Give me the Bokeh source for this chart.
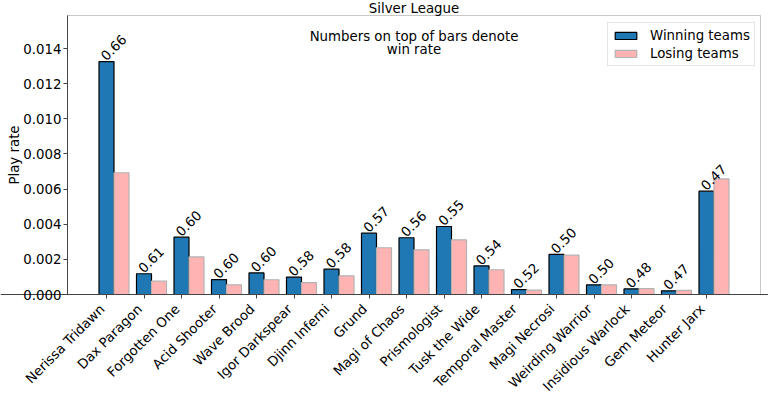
import math
from bokeh.plotting import figure
from bokeh.models import (ColumnDataSource, FixedTicker, NumeralTickFormatter, Range1d, Label,
                          BoxAnnotation)
from bokeh.embed import file_html
from bokeh.resources import INLINE
from bokeh.core.properties import value

heroes = ["Nerissa Tridawn", "Dax Paragon", "Forgotten One", "Acid Shooter", "Wave Brood",
          "Igor Darkspear", "Djinn Inferni", "Grund", "Magi of Chaos", "Prismologist",
          "Tusk the Wide", "Temporal Master", "Magi Necrosi", "Weirding Warrior",
          "Insidious Warlock", "Gem Meteor", "Hunter Jarx"]
winning = [0.01326, 0.00118, 0.00326, 0.00085, 0.00123, 0.00099, 0.00144, 0.00349, 0.00323,
           0.00387, 0.00163, 0.00028, 0.00228, 0.00055, 0.00032, 0.00021, 0.00588]
losing = [0.00693, 0.00076, 0.00214, 0.00055, 0.00084, 0.00068, 0.00106, 0.00266, 0.00254,
          0.00311, 0.00141, 0.00025, 0.00224, 0.00055, 0.00034, 0.00023, 0.00658]
win_rates = ["0.66", "0.61", "0.60", "0.60", "0.60", "0.58", "0.58", "0.57", "0.56",
             "0.55", "0.54", "0.52", "0.50", "0.50", "0.48", "0.47", "0.47"]
y_ticks = [0.0, 0.002, 0.004, 0.006, 0.008, 0.010, 0.012, 0.014]

FONT = "DejaVu Sans"
FS = "13.33px"
BAR_W = 0.4
# axes box in data units
AX_X0, AX_X1 = -1.04, 17.44
AX_Y0, AX_Y1 = 0.0, 0.01588
# whole canvas in data units (room for title, y labels and rotated names)
W, H = 768, 397
PX_X = 693 / (AX_X1 - AX_X0)
PX_Y = 279 / (AX_Y1 - AX_Y0)
VX0 = AX_X0 - 67 / PX_X
VX1 = AX_X1 + (W - 760) / PX_X
VY1 = AX_Y1 + 15 / PX_Y
VY0 = AX_Y0 - (H - 294) / PX_Y

idx = list(range(len(heroes)))
src = ColumnDataSource(dict(
    x=idx,
    x2=[i + BAR_W for i in idx],
    win=winning,
    lose=losing,
    wr=win_rates,
    name=heroes,
    zero=[0.0] * len(heroes),
))

p = figure(width=W, height=H, output_backend="svg", toolbar_location=None,
           x_range=Range1d(VX0, VX1), y_range=Range1d(VY0, VY1),
           min_border_left=0, min_border_right=0, min_border_top=0, min_border_bottom=0)

p.grid.visible = False
p.outline_line_color = None

# axes box
p.add_layout(BoxAnnotation(left=AX_X0, right=AX_X1, bottom=AX_Y0, top=AX_Y1, fill_alpha=0,
                           line_color="#444444", line_width=1, level="underlay"))

p.vbar(x="x", top="win", width=BAR_W, bottom=0, source=src, fill_color="#1f77b4",
       line_color="#000000", line_width=1.2, legend_label="Winning teams")
p.vbar(x="x2", top="lose", width=BAR_W, bottom=0, source=src, fill_color="#ffb3b3",
       line_color="#b3b3b3", line_width=1.2, legend_label="Losing teams")

# win-rate labels on top of the blue bars
p.text(x="x", y="win", text="wr", source=src, angle=math.pi / 4,
       text_align="center", text_baseline="middle", x_offset=7, y_offset=-14,
       text_font=value(FONT), text_font_size=FS, text_color="#000000")

# hero names, rotated, ending at each tick
p.text(x="x", y="zero", text="name", source=src, angle=math.pi / 4,
       text_align="right", text_baseline="top", x_offset=-9.5, y_offset=7,
       text_font=value(FONT), text_font_size=FS, text_color="#000000")

mid_x = (AX_X0 + AX_X1) / 2
title = Label(x=mid_x, y=AX_Y1 + 7 / PX_Y, text="Silver League", text_align="center",
              text_baseline="middle", text_font=FONT, text_font_size=FS,
              text_color="#000000")
p.add_layout(title)

note = Label(x=mid_x, y=AX_Y1 - 13 / PX_Y, text="Numbers on top of bars denote\nwin rate",
             text_align="center", text_baseline="top", text_font=FONT,
             text_font_size=FS, text_color="#000000", text_line_height=0.93)
p.add_layout(note)

xa = p.xaxis[0]
xa.fixed_location = 0
xa.ticker = FixedTicker(ticks=idx)
xa.major_label_overrides = {i: "" for i in idx}
xa.minor_tick_line_color = None
xa.major_tick_in = 0
xa.major_tick_out = 4
xa.axis_line_color = "#444444"
xa.major_tick_line_color = "#444444"

ya = p.yaxis[0]
ya.fixed_location = AX_X0
ya.bounds = (AX_Y0, AX_Y1)
ya.ticker = FixedTicker(ticks=y_ticks)
ya.formatter = NumeralTickFormatter(format="0.000")
ya.minor_tick_line_color = None
ya.major_tick_in = 0
ya.major_tick_out = 4
ya.major_label_standoff = 2
ya.major_label_text_font = FONT
ya.major_label_text_font_size = FS
ya.major_label_text_color = "#000000"
ya.axis_label = "Play rate"
ya.axis_label_text_font = FONT
ya.axis_label_text_font_size = FS
ya.axis_label_text_font_style = "normal"
ya.axis_label_text_color = "#000000"
ya.axis_label_standoff = -2
ya.axis_line_color = "#444444"
ya.major_tick_line_color = "#444444"

lg = p.legend[0]
lg.location = (607, H - 66)
lg.margin = 0
lg.padding = 4
lg.spacing = 2
lg.glyph_width = 27
lg.glyph_height = 9
lg.label_standoff = 11
lg.label_text_font = FONT
lg.label_text_font_size = FS
lg.label_text_color = "#000000"
lg.label_height = 16
lg.border_line_color = "#cccccc"
lg.border_line_width = 1
lg.background_fill_alpha = 0.8

open("out.html", "w").write(file_html(p, INLINE))
